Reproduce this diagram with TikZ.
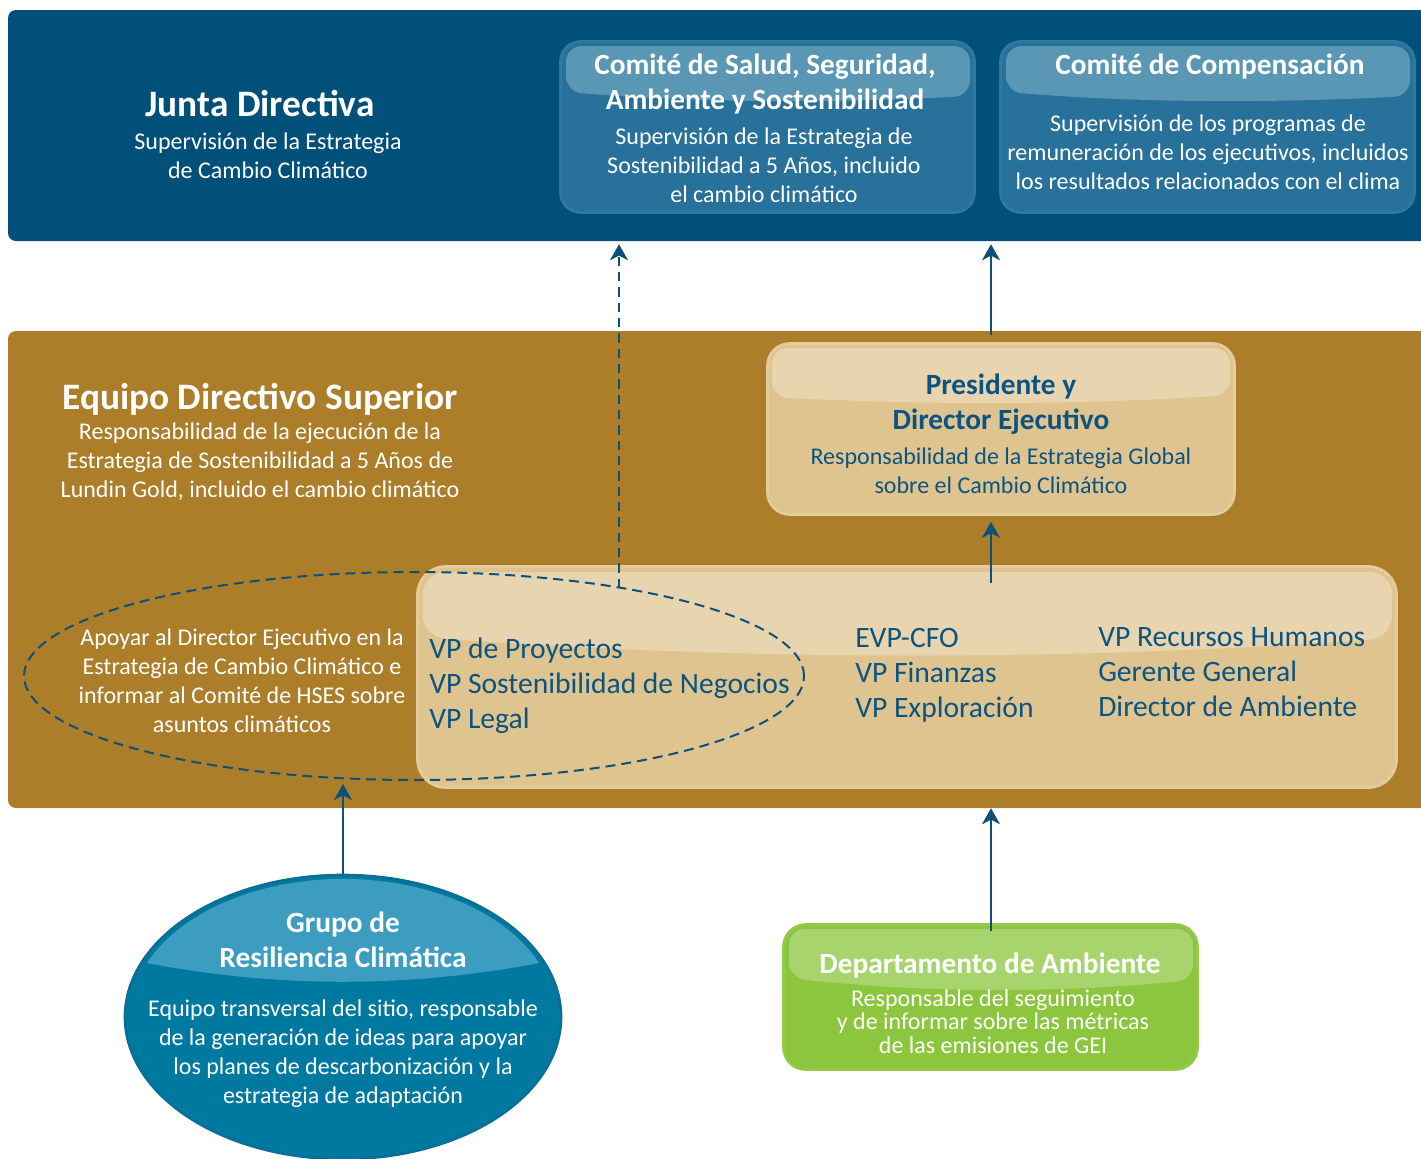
\documentclass[tikz,border=0pt]{standalone}
\usepackage{fontspec}
\setmainfont{Carlito}
\usetikzlibrary{arrows.meta,shapes.geometric}
\definecolor{topblue}{HTML}{00507A}
\definecolor{combox}{HTML}{27719A}
\definecolor{comrim}{HTML}{2E7AA3}
\definecolor{comgloss}{HTML}{5A97B4}
\definecolor{gold}{HTML}{AC7E2A}
\definecolor{cream}{HTML}{DFC48F}
\definecolor{creamrim}{HTML}{E4CC9D}
\definecolor{creamgloss}{HTML}{E8D5AF}
\definecolor{txtblue}{HTML}{0B5482}
\definecolor{arrowblue}{HTML}{0D5079}
\definecolor{grupo}{HTML}{0079A1}
\definecolor{grupogloss}{HTML}{3D9DC0}
\definecolor{gruporim}{HTML}{0A6F96}
\definecolor{green}{HTML}{8CC63F}
\definecolor{greengloss}{HTML}{A8D46E}
\definecolor{greenrim}{HTML}{93CA48}
\tikzset{
  band/.style={rectangle, rounded corners=6pt, inner sep=0},
  combx/.style={rectangle, rounded corners=15pt, fill=combox, draw=comrim, line width=2pt, inner sep=0, minimum width=310.5pt, minimum height=128.25pt},
  creambx/.style={rectangle, rounded corners=16.5pt, fill=cream, draw=creamrim, line width=2pt, inner sep=0},
  wtitle/.style={text=white, font=\bfseries\fontsize{22pt}{26.25pt}\selectfont, align=center, inner sep=0},
  wbody/.style={text=white, font=\fontsize{18pt}{21.75pt}\selectfont, align=center, inner sep=0},
  btitle/.style={text=txtblue, font=\bfseries\fontsize{22pt}{26.25pt}\selectfont, align=center, inner sep=0},
  bbody/.style={text=txtblue, font=\fontsize{18pt}{21.75pt}\selectfont, align=center, inner sep=0},
  vplist/.style={text=txtblue, font=\fontsize{22.2pt}{26.4pt}\selectfont, align=left, inner sep=0, anchor=west},
  arr/.style={draw=arrowblue, line width=1.7pt, -{Stealth[length=12pt,width=13.5pt,inset=3.5pt]}},
}
\begin{document}
\begin{tikzpicture}[x=0.75pt,y=-0.75pt]
\useasboundingbox (0,0) rectangle (1421,1158);
\clip (0,0) rectangle (1421,1158);
% bands
\node[band, fill=topblue, minimum width=1074pt, minimum height=173.25pt] (junta) at (724,125.5) {};
\node[band, fill=gold, minimum width=1074pt, minimum height=357.75pt] (equipo) at (724,569.5) {};
% committee boxes
\node[combx] (comA) at (767.5,127) {};
\node[combx] (comB) at (1207.5,127) {};
\fill[comgloss, rounded corners=12pt] (566,92) -- (566,46) -- (970,46) -- (970,96) .. controls (835,103) and (701,103) .. (566,92) -- cycle;
\fill[comgloss, rounded corners=12pt] (1006,92) -- (1006,46) -- (1410,46) -- (1410,96) .. controls (1275,103) and (1141,103) .. (1006,92) -- cycle;
% presidente
\node[creambx, minimum width=350.25pt, minimum height=128.25pt] (pres) at (1001,429) {};
\fill[creamgloss, rounded corners=12pt] (772,397) -- (772,348) -- (1230,348) -- (1230,395) .. controls (1077,405) and (925,405) .. (772,397) -- cycle;
% VP box
\node[creambx, rounded corners=21pt, minimum width=734.25pt, minimum height=165.75pt] (vp) at (907,677) {};
\fill[creamgloss, rounded corners=16.5pt] (423,637) -- (423,572) -- (1392,572) -- (1392,638) .. controls (1069,661) and (746,661) .. (423,637) -- cycle;
% departamento
\node[rectangle, rounded corners=16.5pt, fill=green, draw=greenrim, line width=2pt, inner sep=0, minimum width=310.5pt, minimum height=108.75pt] (dept) at (990.5,997) {};
\fill[greengloss, rounded corners=12pt] (789,978) -- (789,929) -- (1193,929) -- (1193,980) .. controls (1058,993) and (924,993) .. (789,978) -- cycle;
% grupo ellipse
\node[ellipse, fill=grupo, draw=gruporim, line width=2pt, inner sep=0, minimum width=327pt, minimum height=213pt] (grupo) at (343,1017) {};
\fill[grupogloss] (147,963) arc[start angle=203, end angle=337, x radius=213, y radius=138] .. controls (408,988) and (278,988) .. (147,963) -- cycle;
% dashed ellipse
\node[ellipse, draw=arrowblue, line width=1.5pt, dash pattern=on 7.5pt off 4.5pt, inner sep=0, minimum width=585pt, minimum height=156pt] (dell) at (414,676) {};
% texts
\node[wtitle, font=\bfseries\fontsize{28pt}{30pt}\selectfont] (tjunta) at (260,104) {Junta Directiva};
\node[wbody] (bjunta) at (268,155.5) {Supervisión de la Estrategia\\de Cambio Climático};
\node[wtitle] (tcomA) at (765,84.5) {Comité de Salud, Seguridad,\\Ambiente y Sostenibilidad};
\node[wbody] (bcomA) at (764,165) {Supervisión de la Estrategia de\\Sostenibilidad a 5 Años, incluido\\el cambio climático};
\node[wtitle] (tcomB) at (1210,67) {Comité de Compensación};
\node[wbody] (bcomB) at (1208,152) {Supervisión de los programas de\\remuneración de los ejecutivos, incluidos\\los resultados relacionados con el clima};
\node[wtitle, font=\bfseries\fontsize{28pt}{30pt}\selectfont] (tequipo) at (260,399) {Equipo Directivo Superior};
\node[wbody] (bequipo) at (260,462) {Responsabilidad de la ejecución de la\\Estrategia de Sostenibilidad a 5 Años de\\Lundin Gold, incluido el cambio climático};
\node[wbody] (tell) at (242,681) {Apoyar al Director Ejecutivo en la\\Estrategia de Cambio Climático e\\informar al Comité de HSES sobre\\asuntos climáticos};
\node[btitle] (tpres) at (1001,404.5) {Presidente y\\Director Ejecutivo};
\node[bbody] (bpres) at (1001,471) {Responsabilidad de la Estrategia Global\\sobre el Cambio Climático};
\node[vplist] (vp1) at (429,685.5) {VP de Proyectos\\VP Sostenibilidad de Negocios\\VP Legal};
\node[vplist] (vp2) at (855,675.5) {EVP-CFO\\VP Finanzas\\VP Exploración};
\node[vplist] (vp3) at (1098,672) {VP Recursos Humanos\\Gerente General\\Director de Ambiente};
\node[wtitle] (tgrupo) at (343,940) {Grupo de\\Resiliencia Climática};
\node[wbody] (bgrupo) at (343,1054) {Equipo transversal del sitio, responsable\\de la generación de ideas para apoyar\\los planes de descarbonización y la\\estrategia de adaptación};
\node[wtitle] (tdept) at (990,965) {Departamento de Ambiente};
\node[wbody, font=\fontsize{18pt}{17.6pt}\selectfont] (bdept) at (993,1021.5) {Responsable del seguimiento\\y de informar sobre las métricas\\de las emisiones de GEI};
% connectors
\coordinate (dstart) at (619,588);
\coordinate (vptop) at (991,583);
\draw[arr, line width=1.4pt, dash pattern=on 7pt off 4.5pt] (dstart) -- ([yshift=-2.25pt]dstart |- junta.south);
\draw[arr, shorten <=-3pt] (equipo.north -| vptop) -- ([yshift=-2.25pt]vptop |- junta.south);
\draw[arr] (vptop) -- ([yshift=-4.5pt]vptop |- pres.south);
\draw[arr] (grupo.north) -- ([yshift=-2.25pt]grupo.north |- dell.south);
\draw[arr, shorten <=-6pt] (dept.north -| vptop) -- (vptop |- equipo.south);
\end{tikzpicture}
\end{document}
